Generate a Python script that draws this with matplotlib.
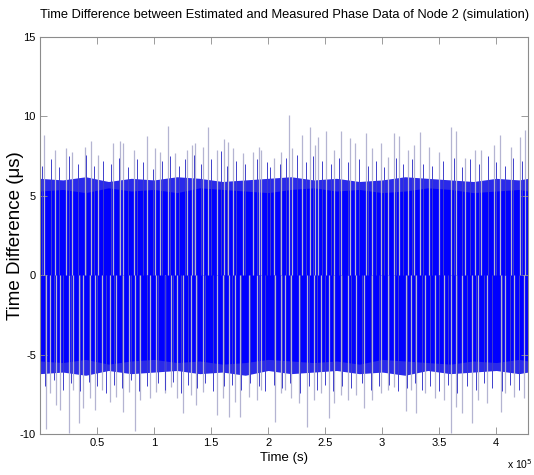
import matplotlib
matplotlib.use("Agg")
import matplotlib.pyplot as plt
from matplotlib.ticker import FuncFormatter

plt.rcParams['axes.unicode_minus'] = False
FONT = ['Liberation Sans', 'DejaVu Sans']

# time axis values are in units of 1e5 s
core_t = [0.0, 0.2, 0.4, 0.6, 0.8, 1.0, 1.2, 1.4, 1.6, 1.8, 2.0, 2.2, 2.4,
          2.6, 2.8, 3.0, 3.2, 3.4, 3.6, 3.8, 4.0, 4.2, 4.28]
core_hi = [5.3, 5.4, 5.2, 5.5, 5.3, 5.4, 5.2, 5.5, 5.4, 5.3, 5.2, 5.4, 5.5,
           5.3, 5.4, 5.2, 5.3, 5.5, 5.4, 5.2, 5.3, 5.4, 5.3]
core_lo = [-5.4, -5.5, -5.3, -5.6, -5.4, -5.3, -5.5, -5.4, -5.6, -5.5, -5.3, -5.4, -5.5,
           -5.4, -5.6, -5.3, -5.4, -5.5, -5.6, -5.4, -5.5, -5.3, -5.4]
# fuzzy fringe around the dense band
fringe_hi = [6.1, 6.0, 6.2, 5.9, 6.1, 6.0, 6.2, 6.1, 5.9, 6.0, 6.1, 6.2, 6.0,
             6.1, 5.9, 6.0, 6.2, 6.1, 6.0, 5.9, 6.1, 6.0, 6.1]
fringe_lo = [-6.2, -6.1, -6.3, -6.0, -6.2, -6.1, -6.0, -6.2, -6.1, -6.3, -6.0, -6.2, -6.1,
             -6.0, -6.2, -6.1, -6.3, -6.0, -6.2, -6.1, -6.0, -6.2, -6.1]

# dark blue spikes just outside the dense band
mid_up_t = [0.02, 0.10, 0.17, 0.25, 0.33, 0.40, 0.47, 0.55, 0.62, 0.69, 0.77, 0.85,
            0.90, 0.99, 1.07, 1.14, 1.22, 1.27, 1.35, 1.41, 1.50, 1.59, 1.64, 1.72,
            1.80, 1.90, 1.99, 2.02, 2.10, 2.16, 2.25, 2.33, 2.39, 2.47, 2.55, 2.62,
            2.70, 2.80, 2.88, 2.95, 3.02, 3.12, 3.18, 3.26, 3.36, 3.44, 3.53, 3.63,
            3.70, 3.77, 3.85, 3.93, 4.00, 4.08, 4.15, 4.23]
mid_up_v = [6.9, 7.3, 6.8, 7.5, 7.0, 7.6, 6.9, 7.2, 7.0, 7.4, 6.8, 7.3,
            7.1, 6.7, 7.2, 7.5, 6.9, 7.3, 7.6, 7.0, 7.3, 7.8, 6.9, 7.2,
            7.0, 7.3, 7.1, 6.8, 7.0, 7.4, 7.6, 7.1, 7.5, 7.2, 7.0, 7.4,
            7.1, 7.3, 6.9, 7.2, 6.8, 7.4, 7.0, 7.3, 7.0, 6.9, 7.2, 7.4,
            6.8, 7.3, 7.0, 7.5, 7.1, 6.9, 7.4, 7.2]
mid_dn_t = [0.04, 0.12, 0.20, 0.27, 0.35, 0.43, 0.50, 0.58, 0.65, 0.72, 0.80, 0.87,
            0.94, 1.03, 1.10, 1.17, 1.24, 1.30, 1.38, 1.45, 1.52, 1.61, 1.68, 1.76,
            1.84, 1.92, 1.97, 2.05, 2.12, 2.19, 2.28, 2.36, 2.43, 2.50, 2.57, 2.65,
            2.73, 2.82, 2.90, 2.97, 3.06, 3.14, 3.22, 3.29, 3.35, 3.42, 3.50, 3.58,
            3.66, 3.74, 3.82, 3.89, 3.96, 4.05, 4.12, 4.20]
mid_dn_v = [-7.0, -6.6, -7.2, -6.8, -7.3, -6.7, -7.0, -7.4, -6.9, -7.1, -6.6, -7.3,
            -7.0, -6.8, -7.2, -6.7, -7.4, -6.9, -7.1, -6.8, -7.3, -7.0, -6.9, -7.2,
            -6.8, -7.0, -7.3, -6.9, -7.1, -6.8, -7.4, -7.0, -7.2, -6.9, -7.3, -7.0,
            -7.1, -6.8, -7.2, -7.0, -6.9, -7.3, -7.1, -6.8, -7.2, -7.0, -7.3, -6.9,
            -7.4, -7.0, -7.2, -6.8, -7.1, -7.3, -6.9, -7.2]

# light outer spikes (peaks of the noise)
up_t = [0.035, 0.13, 0.23, 0.28, 0.39, 0.45, 0.51, 0.64, 0.70, 0.73, 0.82, 0.94,
        1.01, 1.05, 1.12, 1.18, 1.29, 1.33, 1.36, 1.43, 1.47, 1.55, 1.61, 1.65,
        1.69, 1.78, 1.87, 1.92, 1.94, 2.05, 2.11,
        2.18, 2.21, 2.30, 2.37, 2.41, 2.44, 2.51, 2.58, 2.64, 2.72, 2.76, 2.86,
        2.91, 2.99, 3.05, 3.10, 3.15, 3.23, 3.28, 3.33, 3.41, 3.50, 3.60, 3.65,
        3.73, 3.81, 3.87, 3.98, 4.03, 4.13, 4.21, 4.25]
up_v = [8.83, 7.88, 7.99, 7.78, 8.09, 8.47, 7.57, 8.35, 8.47, 8.30, 7.88, 8.77,
        7.99, 7.78, 9.40, 7.67, 7.88, 8.20, 8.30, 8.09, 9.35, 7.88, 8.56, 8.41,
        7.99, 7.67, 7.78, 8.09, 7.88, 7.36, 7.78,
        10.09, 7.99, 8.83, 9.35, 8.20, 8.68, 9.08, 7.88, 9.10, 8.62, 8.30, 8.98,
        7.99, 8.30, 7.46, 8.98, 8.77, 7.88, 8.20, 9.04, 8.09, 7.78, 9.31, 9.08,
        7.36, 7.88, 7.88, 8.20, 8.83, 8.09, 8.72, 9.14]
dn_t = [0.053, 0.088, 0.14, 0.175, 0.25, 0.29, 0.345, 0.38, 0.44, 0.48, 0.54, 0.61,
        0.67, 0.73, 0.78, 0.83, 0.88, 0.96, 1.02, 1.10, 1.15, 1.20, 1.25, 1.32,
        1.37, 1.43, 1.55, 1.60, 1.66, 1.71, 1.75, 1.83, 1.90, 1.94, 2.06, 2.11,
        2.15, 2.20, 2.27, 2.34, 2.40, 2.46, 2.53, 2.58, 2.64, 2.70, 2.77, 2.84,
        2.91, 2.99, 3.05, 3.10, 3.21, 3.25, 3.30, 3.38, 3.46, 3.54, 3.60, 3.65,
        3.70, 3.79, 3.84, 3.92, 4.04, 4.08, 4.16, 4.24]
dn_v = [-9.70, -7.44, -8.17, -8.49, -9.92, -7.24, -9.33, -8.38, -7.75, -8.49, -7.24, -7.96,
        -7.65, -8.60, -7.35, -9.79, -7.86, -7.75, -7.35, -7.44, -7.02, -7.75, -8.70, -7.55,
        -8.17, -7.35, -8.80, -7.75, -8.90, -7.96, -8.90, -7.65, -7.86, -7.24, -9.22, -7.44,
        -7.24, -7.75, -8.06, -9.58, -7.86, -7.44, -9.01, -8.06, -7.55, -7.86, -7.55, -8.38,
        -7.86, -7.44, -7.24, -7.02, -8.53, -7.24, -8.66, -7.44, -7.75, -7.86, -9.96, -8.27,
        -8.70, -9.33, -7.86, -8.06, -8.60, -7.44, -7.65, -7.75]

x_ticks = [0.5, 1, 1.5, 2, 2.5, 3, 3.5, 4]
y_ticks = [-10, -5, 0, 5, 10, 15]

scale = 1e5
fig = plt.figure(figsize=(5.34, 4.75), dpi=100)
ax = fig.add_axes([0.075, 0.0863, 0.914, 0.8358])

light = '#b4b4d2'
dark = '#4040cc'
ax.vlines([t * scale for t in up_t], 0, up_v, color=light, lw=0.9)
ax.vlines([t * scale for t in dn_t], dn_v, 0, color=light, lw=0.9)
ax.vlines([t * scale for t in mid_up_t], 0, mid_up_v, color=dark, lw=0.7)
ax.vlines([t * scale for t in mid_dn_t], mid_dn_v, 0, color=dark, lw=0.7)
ax.fill_between([t * scale for t in core_t], fringe_lo, fringe_hi, color='#2a2aea', lw=0)
ax.fill_between([t * scale for t in core_t], core_lo, core_hi, color='#0000ff', lw=0)

ax.set_xlim(0, 4.28 * scale)
ax.set_ylim(-10, 15)
ax.set_xticks([t * scale for t in x_ticks])
ax.xaxis.set_major_formatter(FuncFormatter(lambda v, p: f"{v / scale:g}"))
ax.set_yticks(y_ticks)

for s in ax.spines.values():
    s.set_color('#8c8c8c')
    s.set_linewidth(0.8)
ax.tick_params(direction='in', length=5, width=0.6, color='#8c8c8c',
               top=True, right=True, labelsize=8, pad=3)
for lab in ax.get_xticklabels() + ax.get_yticklabels():
    lab.set_family(FONT)

fig.text(0.532, 0.968, 'Time Difference between Estimated and Measured Phase Data of Node 2 (simulation)',
         fontsize=9.3, family=FONT, ha='center', va='center')
ax.set_xlabel('Time (s)', fontsize=9.5, family=FONT, labelpad=3)
ax.set_ylabel('Time Difference (\u03bcs)', fontsize=13.5, family=FONT)
ax.yaxis.set_label_coords(-0.032, 0.5)
fig.text(0.95, 0.012, 'x 10$^5$', fontsize=7.5, family=FONT)

fig.savefig('out.png', dpi=100)
